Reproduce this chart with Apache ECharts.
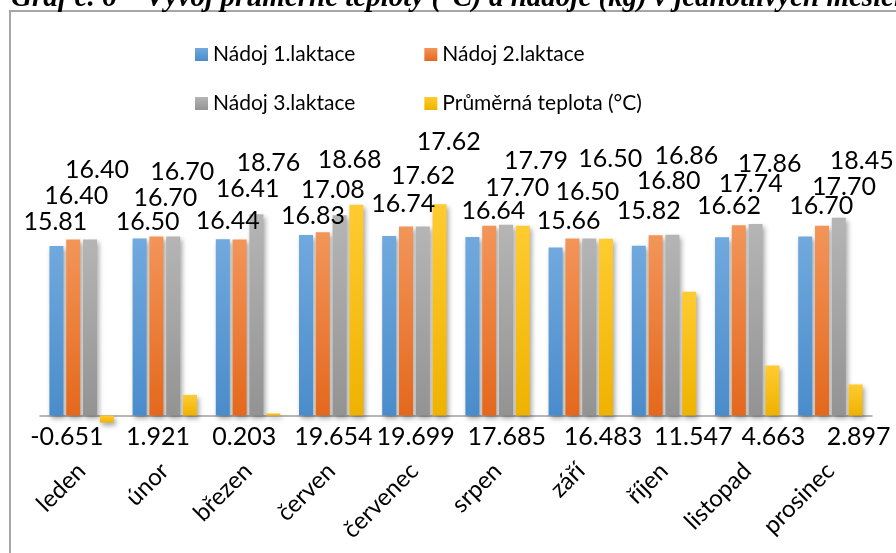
<!DOCTYPE html>
<html>
<head>
<meta charset="utf-8">
<script src="https://cdn.jsdelivr.net/npm/echarts@6/dist/echarts.min.js"></script>
<style>html,body{margin:0;padding:0;background:#fff;}#c{width:896px;height:553px;}</style>
</head>
<body>
<div id="c"></div>
<script>
// ---- data ----
const categories = ['leden','únor','březen','červen','červenec','srpen','září','říjen','listopad','prosinec'];
const seriesNames = ['Nádoj 1.laktace','Nádoj 2.laktace','Nádoj 3.laktace','Průměrná teplota (°C)'];
const lactation1 = [15.81, 16.50, 16.44, 16.83, 16.74, 16.64, 15.66, 15.82, 16.62, 16.70];
const lactation2 = [16.40, 16.70, 16.41, 17.08, 17.62, 17.70, 16.50, 16.80, 17.74, 17.70];
const lactation3 = [16.40, 16.70, 18.76, 18.68, 17.62, 17.79, 16.50, 16.86, 17.86, 18.45];
const temperature = [-0.651, 1.921, 0.203, 19.654, 19.699, 17.685, 16.483, 11.547, 4.663, 2.897];

// ---- label placement (style only, px) ----
const lift1 = [24,17,18,19,32,26,27,35,31,30];
const shift1 = [-1,8,5,7,14,21,13,10,7,16];
const lift2 = [44,38,51,42,51,38,47,54,41,39];
const shift2 = [3,9,8,10,17,28,15,13,12,22];
const lift3 = [70,64,51,55,85,64,80,79,60,57];
const shift3 = [7,9,12,10,26,30,21,14,14,23];
const shiftT = [-40,-32,-29,-23,-24,-16,-3,4,1,3];

const FONT = 'Lato';
const yMin = -2, yMax = 20;
const gridTop = 201, gridH = 236;
const k = gridH / (yMax - yMin);

function grad(top, bottom) {
  return new echarts.graphic.LinearGradient(0, 0, 0, 1, [
    {offset: 0, color: top}, {offset: 1, color: bottom}
  ]);
}
const colors = [
  grad('#70A9DE', '#4A8CCB'),
  grad('#F39559', '#E4681C'),
  grad('#B5B5B5', '#939393'),
  grad('#FFCB30', '#EFB200')
];

function topLabels(values, lifts, shifts) {
  return values.map((v, i) => ({
    value: v,
    label: {offset: [shifts[i], -lifts[i]]}
  }));
}
function tempLabels(values, shifts) {
  return values.map((v, i) => ({
    value: v,
    label: {offset: [shifts[i], 21 - Math.max(0, -v) * k]}
  }));
}

const labelBase = {
  show: true,
  fontFamily: FONT,
  fontSize: 25,
  color: '#000',
  distance: 0,
  verticalAlign: 'middle',
  align: 'center',
  formatter: p => p.value.toFixed(2)
};

const shadow = {
  shadowBlur: 5,
  shadowOffsetX: 2,
  shadowOffsetY: 3,
  shadowColor: 'rgba(0,0,0,0.35)'
};

const barCommon = {
  type: 'bar',
  barWidth: 14,
  barGap: '20%',
  animation: false
};

const legendText = {fontFamily: FONT, fontSize: 21, color: '#000'};

const option = {
  animation: false,
  backgroundColor: '#fff',
  title: {
    text: 'Graf č. 6 – Vývoj průměrné teploty (°C) a nádoje (kg) v jednotlivých měsících',
    left: 6,
    top: -21,
    textStyle: {fontFamily: 'Liberation Serif', fontStyle: 'italic', fontWeight: 'bold', fontSize: 29, color: '#000'}
  },
  graphic: [{
    type: 'rect',
    shape: {x: 10, y: 11, width: 1000, height: 1000},
    style: {fill: 'none', stroke: '#A6A6A6', lineWidth: 2},
    silent: true
  }],
  legend: [{
    data: [seriesNames[0], seriesNames[1]],
    left: 190, top: 39,
    itemWidth: 13, itemHeight: 13, itemGap: 69,
    icon: 'rect',
    textStyle: legendText
  }, {
    data: [seriesNames[2], seriesNames[3]],
    left: 190, top: 88,
    itemWidth: 13, itemHeight: 13, itemGap: 69,
    icon: 'rect',
    textStyle: legendText
  }],
  grid: {left: 40, right: 24, top: gridTop, height: gridH, containLabel: false},
  xAxis: {
    type: 'category',
    data: categories,
    axisLine: {lineStyle: {color: '#A0A0A0', width: 1.5}},
    axisTick: {show: false},
    axisLabel: {interval: 0, rotate: 45, margin: 30, fontFamily: FONT, fontSize: 24, color: '#000'}
  },
  yAxis: {
    type: 'value', min: yMin, max: yMax, show: false,
    splitLine: {show: false}
  },
  series: [
    Object.assign({}, barCommon, {
      name: seriesNames[0],
      data: topLabels(lactation1, lift1, shift1),
      itemStyle: Object.assign({color: colors[0]}, shadow),
      label: Object.assign({}, labelBase, {position: 'top'})
    }),
    Object.assign({}, barCommon, {
      name: seriesNames[1],
      data: topLabels(lactation2, lift2, shift2),
      itemStyle: Object.assign({color: colors[1]}, shadow),
      label: Object.assign({}, labelBase, {position: 'top'})
    }),
    Object.assign({}, barCommon, {
      name: seriesNames[2],
      data: topLabels(lactation3, lift3, shift3),
      itemStyle: Object.assign({color: colors[2]}, shadow),
      label: Object.assign({}, labelBase, {position: 'top'})
    }),
    Object.assign({}, barCommon, {
      name: seriesNames[3],
      data: tempLabels(temperature, shiftT),
      itemStyle: Object.assign({color: colors[3]}, shadow),
      label: Object.assign({}, labelBase, {position: 'insideBottom', formatter: p => p.value.toFixed(3)})
    })
  ]
};

const chart = echarts.init(document.getElementById('c'), null, {renderer: 'canvas'});
chart.setOption(option);
</script>
</body>
</html>
